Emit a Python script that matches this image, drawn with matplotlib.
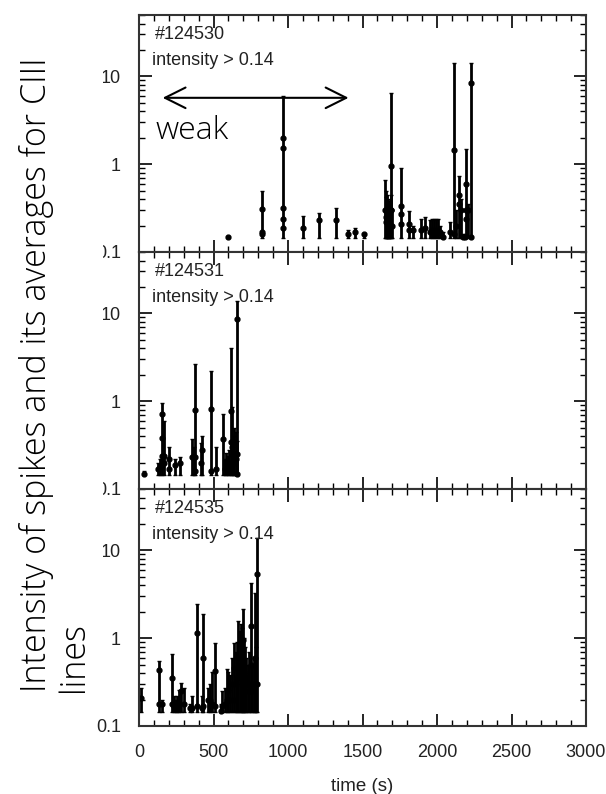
import numpy as np
import matplotlib
matplotlib.use("Agg")
import matplotlib.pyplot as plt
from matplotlib.patches import Rectangle
from matplotlib.ticker import FixedLocator, LogLocator, NullFormatter, MultipleLocator

# shot numbers shown in each panel
shots = ["#124530", "#124531", "#124535"]
threshold_text = "intensity > 0.14"
floor = 0.145  # lower end of every error bar

# panel 1 (#124530): time, spike value, upper end of bar
t1 = [597, 828, 966, 1101, 1208, 1324, 1405, 1450, 1510, 1652,
      1656, 1660, 1664, 1668, 1672, 1676, 1680, 1689, 1694, 1700,
      1756, 1812, 1840, 1891, 1920, 1950, 1965, 1980, 1995, 2005,
      2020, 2040, 2090, 2114, 2130, 2148, 2160, 2175, 2190, 2197,
      2210, 2226]
v1 = [0.15, 0.31, 1.97, 0.19, 0.23, 0.23, 0.16, 0.17, 0.16, 0.3,
      0.25, 0.22, 0.28, 0.2, 0.26, 0.19, 0.22, 0.95, 0.3, 0.2,
      0.33, 0.21, 0.18, 0.18, 0.19, 0.17, 0.18, 0.16, 0.18, 0.17,
      0.17, 0.15, 0.17, 1.44, 0.2, 0.45, 0.3, 0.15, 0.15, 0.59,
      0.3, 8.3]
hi1 = [0.15, 0.5, 6.0, 0.26, 0.28, 0.32, 0.18, 0.19, 0.16, 0.66,
       0.5, 0.42, 0.45, 0.38, 0.4, 0.33, 0.35, 6.4, 0.45, 0.3,
       0.9, 0.29, 0.2, 0.24, 0.25, 0.23, 0.24, 0.24, 0.24, 0.24,
       0.2, 0.17, 0.22, 14.3, 0.3, 0.73, 0.4, 0.16, 0.16, 1.48,
       0.35, 14.3]
p1_t = [828, 828, 966, 966, 966, 966, 1689, 1689, 1756, 1756, 1812, 2114, 2148, 2197, 2197, 2226]
p1_v = [0.17, 0.16, 1.52, 0.32, 0.24, 0.19, 0.3, 0.2, 0.27, 0.21, 0.18, 0.16, 0.35, 0.3, 0.24, 0.15]

# panel 2 (#124531)
t2 = [34, 130, 140, 157, 168, 201, 240, 275, 355, 366,
      376, 414, 425, 481, 515, 562, 575, 585, 595, 604,
      617, 625, 632, 640, 648, 655, 660]
v2 = [0.15, 0.17, 0.18, 0.38, 0.24, 0.22, 0.19, 0.2, 0.23, 0.23,
      0.79, 0.2, 0.28, 0.82, 0.17, 0.37, 0.17, 0.2, 0.18, 0.2,
      0.77, 0.3, 0.25, 0.34, 0.22, 0.25, 8.6]
hi2 = [0.16, 0.2, 0.22, 0.96, 0.59, 0.3, 0.22, 0.23, 0.37, 0.3,
       2.66, 0.33, 0.4, 2.2, 0.3, 0.72, 0.22, 0.26, 0.24, 0.28,
       4.0, 0.85, 0.4, 0.5, 0.45, 0.35, 13.8]
p2_t = [157, 157, 168, 201, 376, 376, 481, 617, 640, 604, 660]
p2_v = [0.71, 0.24, 0.2, 0.17, 0.23, 0.16, 0.16, 0.34, 0.2, 0.16, 0.15]

# panel 3 (#124535)
t3 = [11, 136, 152, 219, 232, 245, 258, 270, 282, 302,
      345, 358, 387, 425, 432, 462, 475, 490, 512, 548,
      560, 575, 588, 600, 612, 625, 640, 650, 660, 667,
      675, 682, 690, 696, 705, 712, 720, 730, 740, 749,
      760, 770, 781, 788, 794]
v3 = [0.21, 0.43, 0.18, 0.35, 0.17, 0.16, 0.17, 0.18, 0.25, 0.18,
      0.16, 0.16, 1.14, 0.16, 0.59, 0.2, 0.2, 0.18, 0.42, 0.15,
      0.17, 0.18, 0.2, 0.26, 0.2, 0.3, 0.46, 0.3, 0.35, 0.6,
      0.4, 0.5, 0.45, 0.95, 0.4, 0.35, 0.3, 0.25, 0.3, 1.39,
      0.25, 0.3, 0.6, 0.3, 5.4]
hi3 = [0.27, 0.55, 0.2, 0.655, 0.22, 0.2, 0.22, 0.26, 0.31, 0.27,
       0.18, 0.22, 2.43, 0.22, 1.91, 0.27, 0.3, 0.41, 0.89, 0.18,
       0.25, 0.27, 0.44, 0.41, 0.38, 0.6, 0.875, 0.7, 0.9, 1.58,
       1.2, 1.45, 1.3, 2.14, 1.0, 0.8, 0.6, 0.5, 0.7, 4.2,
       0.5, 0.6, 3.3, 0.8, 13.7]
p3_t = [136, 219, 387, 432, 512, 696, 749, 794, 640]
p3_v = [0.18, 0.18, 0.17, 0.17, 0.17, 0.4, 0.5, 0.3, 0.2]

panels = [(t1, v1, hi1, p1_t, p1_v), (t2, v2, hi2, p2_t, p2_v), (t3, v3, hi3, p3_t, p3_v)]

plt.rcParams['font.family'] = ['Liberation Sans', 'DejaVu Sans']
big_font = ['Open Sans', 'DejaVu Sans']
fig = plt.figure(figsize=(6.06, 7.94), dpi=100)
left, right = 139 / 606, 586 / 606
top, bottom = 1 - 15 / 794, 1 - 726 / 794
h = (top - bottom) / 3
axes = []
for i in range(3):
    ax = fig.add_axes([left, top - (i + 1) * h, right - left, h])
    axes.append(ax)

for ax, (t, v, hi, pt, pv), shot in zip(axes, panels, shots):
    t = np.array(t); v = np.array(v); hi = np.array(hi)
    yerr = [np.clip(v - floor, 0, None), hi - v]
    ax.errorbar(t, v, yerr=yerr, fmt='o', color='black', ms=3.5, lw=2,
                capsize=1.5, elinewidth=2)
    ax.plot(pt, pv, 'o', color='black', ms=3.5)
    ax.set_yscale('log')
    ax.set_ylim(0.1, 50)
    ax.set_xlim(0, 3000)
    ax.yaxis.set_major_locator(FixedLocator([0.1, 1, 10]))
    ax.yaxis.set_minor_locator(LogLocator(base=10, subs=np.arange(2, 10)))
    ax.yaxis.set_minor_formatter(NullFormatter())
    ax.set_yticklabels(['0.1', '1', '10'])
    ax.xaxis.set_major_locator(MultipleLocator(500))
    ax.xaxis.set_minor_locator(MultipleLocator(100))
    ax.tick_params(which='major', direction='in', length=9, width=1.2,
                   top=True, right=True, labelsize=13, labelcolor='#222', pad=13)
    ax.tick_params(which='minor', direction='in', length=4.5, width=1.0,
                   top=True, right=True)
    for s in ax.spines.values():
        s.set_linewidth(1.5)
        s.set_color('#333')
    ax.text(0.035, 0.955, shot, transform=ax.transAxes, fontsize=13, color='#222', va='top')
    ax.text(0.03, 0.845, threshold_text, transform=ax.transAxes, fontsize=13, color='#222', va='top')
    if ax is not axes[-1]:
        ax.tick_params(labelbottom=False)

axes[-1].set_xlabel('time (s)', fontsize=13.5, color='#222', labelpad=12)

# arrow and "weak" annotation in the top panel
axes[0].annotate('', xy=(1425, 5.7), xytext=(140, 5.7),
                 arrowprops=dict(arrowstyle='<->', lw=1.5, color='black', mutation_scale=37))
axes[0].text(112, 1.94, 'weak', fontsize=23, family=big_font, weight='light',
             color='black', va='baseline')

# white box behind the big y label (clips the 0.1 labels as in the original)
fig.patches.append(Rectangle((0, 1 - 700 / 794), 103 / 606, 660 / 794,
                             transform=fig.transFigure, facecolor='white',
                             edgecolor='none', zorder=2))
fig.text(19 / 606, 1 - 692 / 794, 'Intensity of spikes and its averages for CIII',
         rotation=90, fontsize=24.5, family=big_font, weight='light',
         color='black', ha='left', va='bottom', zorder=3)
fig.text(57 / 606, 1 - 692 / 794, 'lines',
         rotation=90, fontsize=24.5, family=big_font, weight='light',
         color='black', ha='left', va='bottom', zorder=3)

fig.savefig('out.png', dpi=100)
